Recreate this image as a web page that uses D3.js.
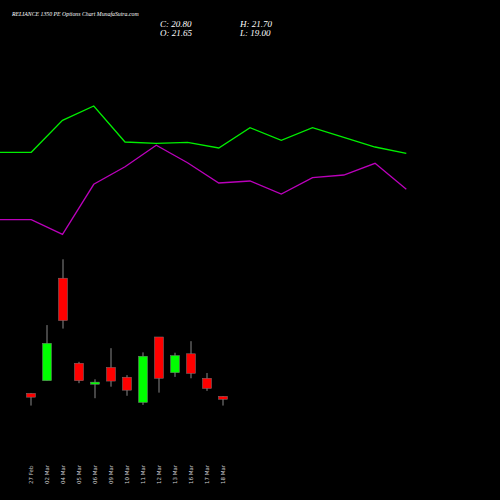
<!DOCTYPE html>
<html><head><script src="https://cdn.jsdelivr.net/npm/d3@7"></script>
<style>body{margin:0;background:#000}</style></head><body>
<script>
const dates=["27 Feb","02 Mar","04 Mar","05 Mar","06 Mar","09 Mar","10 Mar","11 Mar","12 Mar","13 Mar","16 Mar","17 Mar","18 Mar"];
const open=[22.5,26.1,55.4,31.1,25.1,29.9,27.1,19.9,38.6,28.4,33.8,26.8,21.65];
const close=[21.4,36.8,43.3,26.1,25.7,26.0,23.4,33.1,26.8,33.3,28.2,23.9,20.8];
const high=[22.6,42.0,60.8,31.5,26.5,35.4,27.7,34.2,38.6,34.1,37.4,28.3,21.7];
const low=[19.0,26.1,41.0,25.4,21.1,24.4,21.8,19.2,22.7,27.2,26.8,23.2,19.0];
const greenLine=[347.7,347.7,379.7,394,358,356.7,357.7,352,372.3,359.7,372.3,362.7,353,346.7];
const magentaLine=[280.3,280.3,265.7,315.7,333.3,354.7,337.3,317,319,306,322.3,325,336.7,310.7];

const W=500,H=500;
const svg=d3.select("body").append("svg").attr("width",W).attr("height",H).style("background","#000");
const x=d3.scaleLinear().domain([0,12]).range([31,223]);
const y=d3.scaleLinear().domain([21.65,60.8]).range([396.3,259.3]);
const xl=d3.scaleLinear().domain([0,13]).range([0,406.3]);
const yl=d3.scaleLinear().domain([0,500]).range([500,0]);

const line=d3.line().x((d,i)=>xl(i)).y(d=>yl(d));
svg.append("path").attr("d",line(greenLine)).attr("fill","none").attr("stroke","#00ee00").attr("stroke-width",1.3);
svg.append("path").attr("d",line(magentaLine)).attr("fill","none").attr("stroke","#bb00bb").attr("stroke-width",1.3);

const g=svg.append("g");
dates.forEach((d,i)=>{
  const up=close[i]>=open[i];
  const col=up?"#00ff00":"#ff0000";
  g.append("line").attr("x1",x(i)).attr("x2",x(i)).attr("y1",y(high[i])).attr("y2",y(low[i])).attr("stroke","#888").attr("stroke-width",1);
  const top=y(Math.max(open[i],close[i])),bot=y(Math.min(open[i],close[i]));
  g.append("rect").attr("x",x(i)-4.5).attr("width",9).attr("y",top).attr("height",Math.max(1.5,bot-top)).attr("fill",col).attr("stroke","#777").attr("stroke-width",0.5);
  svg.append("text").attr("transform",`translate(${x(i)+2},484) rotate(-90)`).attr("fill","#ccc").attr("font-size",5.5).attr("font-family","DejaVu Sans").text(d);
});

const tf="Liberation Serif";
svg.append("text").attr("x",12).attr("y",16).attr("fill","#fff").attr("font-size",5.8).attr("font-style","italic").attr("font-family",tf).text("RELIANCE 1350  PE Options  Chart MunafaSutra.com");
const info=[["C: 20.80",160,27],["O: 21.65",160,36],["H: 21.70",240,27],["L: 19.00",240,36]];
info.forEach(t=>svg.append("text").attr("x",t[1]).attr("y",t[2]).attr("fill","#fff").attr("font-size",9).attr("font-style","italic").attr("font-family",tf).text(t[0]));
</script></body></html>
